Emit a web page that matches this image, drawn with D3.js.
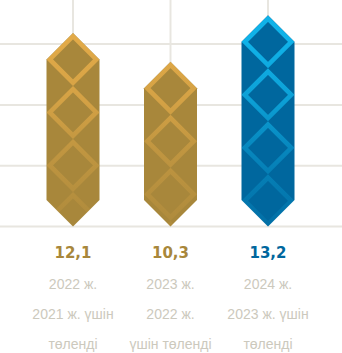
<!DOCTYPE html>
<html><head><meta charset="utf-8">
<script src="https://cdn.jsdelivr.net/npm/d3@7"></script>
<style>html,body{margin:0;padding:0;background:#fff;}svg{display:block;}</style>
</head><body>
<script>
const categories = ["2022", "2023", "2024"];
const values = [12.1, 10.3, 13.2];
const valueLabels = ["12,1", "10,3", "13,2"];
const captionLines = [
  ["2022 ж.", "2021 ж. үшін", "төленді"],
  ["2023 ж.", "2022 ж.", "үшін төленді"],
  ["2024 ж.", "2023 ж. үшін", "төленді"]
];
const gridTicks = [0, 3.8, 7.6, 11.4];
const fillColors = ["#a8873b", "#a8873b", "#00679e"];
const strokeColors = ["#e2aa48", "#e2aa48", "#10b2e8"];

const W = 342, H = 353;
const svg = d3.select("body").append("svg").attr("width", W).attr("height", H);
const x = d3.scalePoint().domain(categories).range([73, 268]);
const y = d3.scaleLinear().domain([0, 14]).range([226.5, 2.5]);
const bw = 53, hw = bw / 2;

const defs = svg.append("defs");
svg.append("g").selectAll("line").data(gridTicks).join("line")
  .attr("x1", 0).attr("x2", W).attr("y1", d => y(d)).attr("y2", d => y(d))
  .attr("stroke", "#e8e6e0").attr("stroke-width", 2);
svg.append("g").selectAll("line").data(categories).join("line")
  .attr("x1", d => x(d)).attr("x2", d => x(d)).attr("y1", 0).attr("y2", y(0))
  .attr("stroke", "#e8e6e0").attr("stroke-width", 2);

function barPath(cx, v) {
  const t = y(v), b = y(0);
  return `M${cx},${t} L${cx + hw},${t + hw} L${cx + hw},${b - hw} L${cx},${b} L${cx - hw},${b - hw} L${cx - hw},${t + hw} Z`;
}

categories.forEach((c, i) => {
  const cx = x(c), v = values[i];
  const gid = "g" + i, cid = "c" + i;
  const grad = defs.append("linearGradient").attr("id", gid)
    .attr("gradientUnits", "userSpaceOnUse").attr("x1", 0).attr("x2", 0)
    .attr("y1", y(11.5)).attr("y2", y(0));
  [[0, 1], [0.32, 0.75], [0.58, 0.42], [1, 0.1]].forEach(([o, a]) =>
    grad.append("stop").attr("offset", o).attr("stop-color", strokeColors[i]).attr("stop-opacity", a));
  defs.append("clipPath").attr("id", cid).append("path").attr("d", barPath(cx, v));

  const g = svg.append("g");
  g.append("path").attr("d", barPath(cx, v)).attr("fill", fillColors[i]);
  const sw = 4.6, inset = sw / 2 * Math.SQRT2, r = hw - inset;
  const tops = d3.range(y(v), y(0), bw);
  g.append("g").attr("clip-path", `url(#${cid})`).selectAll("path").data(tops).join("path")
    .attr("d", t => { const cy = t + hw; return `M${cx},${cy - r} L${cx + r},${cy} L${cx},${cy + r} L${cx - r},${cy} Z`; })
    .attr("fill", "none").attr("stroke", `url(#${gid})`).attr("stroke-width", sw)
    .attr("stroke-linejoin", "miter");

  svg.append("text").attr("x", cx).attr("y", 258).attr("text-anchor", "middle")
    .attr("font-family", "DejaVu Sans").attr("font-weight", "bold").attr("font-size", 15)
    .attr("fill", fillColors[i]).text(valueLabels[i]);
  captionLines[i].forEach((ln, j) => {
    svg.append("text").attr("x", cx).attr("y", 289 + j * 30).attr("text-anchor", "middle")
      .attr("font-family", "Liberation Sans, Arial, sans-serif").attr("font-size", 14)
      .attr("fill", "#ccc9bd").text(ln);
  });
});
</script>
</body></html>
